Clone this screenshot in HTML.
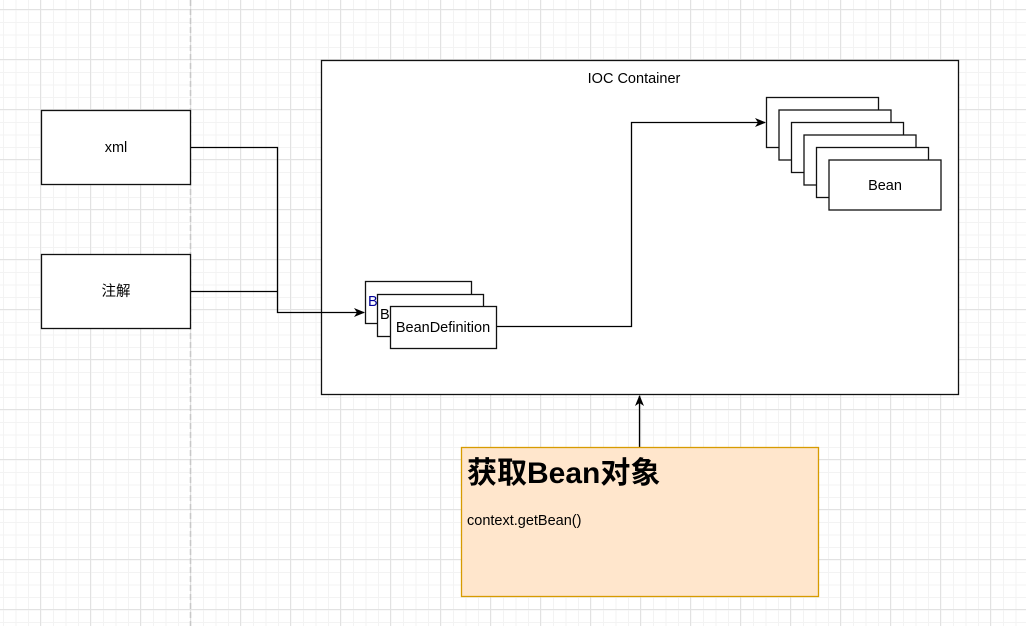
<!DOCTYPE html>
<html><head><meta charset="utf-8"><style>
html,body{margin:0;padding:0;background:#fff}
svg{display:block}
text{font-family:"Liberation Sans","Noto Sans CJK SC",sans-serif}
</style></head><body>
<svg width="1026" height="626" viewBox="0 0 1026 626" xmlns="http://www.w3.org/2000/svg">
<defs>
<pattern id="minor" width="12.5" height="12.5" patternUnits="userSpaceOnUse" x="3" y="-3">
<path d="M0.5 0V12.5M0 0.5H12.5" stroke="#f3f3f3" stroke-width="1" fill="none"/>
</pattern>
<pattern id="major" width="50" height="50" patternUnits="userSpaceOnUse" x="-10" y="9">
<path d="M0.5 0V50M0 0.5H50" stroke="#e2e2e2" stroke-width="1" fill="none"/>
</pattern>
<marker id="ar" markerWidth="12" markerHeight="12" refX="10" refY="6" orient="auto" markerUnits="userSpaceOnUse">
<path d="M0 1.5L11 6L0 10.5L3 6Z" fill="#000"/>
</marker>
</defs>
<rect width="1026" height="626" fill="url(#minor)"/>
<rect width="1026" height="626" fill="url(#major)"/>
<line x1="190.5" y1="0" x2="190.5" y2="626" stroke="#c8c8c8" stroke-width="1.5" stroke-dasharray="6,3"/>

<g stroke="#111" stroke-width="1.3">
<rect x="321.5" y="60.5" width="637" height="334" fill="#fff"/>
<rect x="41.5" y="110.5" width="149" height="74" fill="#fff"/>
<rect x="41.5" y="254.5" width="149" height="74" fill="#fff"/>
</g>
<text x="634" y="83" font-size="14.5" text-anchor="middle">IOC Container</text>
<text x="116" y="152" font-size="14.5" text-anchor="middle">xml</text>
<text x="116" y="296" font-size="14.5" text-anchor="middle">注解</text>

<g fill="none" stroke="#000" stroke-width="1.3">
<polyline points="191,147.5 277.5,147.5 277.5,312.5 364,312.5" marker-end="url(#ar)"/>
<polyline points="191,291.5 277.5,291.5"/>
<polyline points="496,326.5 631.5,326.5 631.5,122.5 765,122.5" marker-end="url(#ar)"/>
<line x1="639.5" y1="447" x2="639.5" y2="396" marker-end="url(#ar)"/>
</g>

<g fill="#fff" stroke="#111" stroke-width="1.3">
<rect x="365.5" y="281.5" width="106" height="42"/>
<rect x="377.5" y="294.5" width="106" height="42"/>
<rect x="390.5" y="306.5" width="106" height="42"/>
</g>
<text x="368" y="306" font-size="14.5" fill="#000099">B</text>
<text x="380" y="319" font-size="14.5" fill="#000">B</text>
<text x="443" y="332" font-size="14.5" text-anchor="middle">BeanDefinition</text>

<g fill="#fff" stroke="#111" stroke-width="1.3">
<rect x="766.5" y="97.5" width="112" height="50"/>
<rect x="779" y="110" width="112" height="50"/>
<rect x="791.5" y="122.5" width="112" height="50"/>
<rect x="804" y="135" width="112" height="50"/>
<rect x="816.5" y="147.5" width="112" height="50"/>
<rect x="829" y="160" width="112" height="50"/>
</g>
<text x="885" y="190" font-size="14.5" text-anchor="middle">Bean</text>

<rect x="461.5" y="447.5" width="357" height="149" fill="#ffe6cc" stroke="#d79b00" stroke-width="1.3"/>
<text x="467" y="483" font-size="30" font-weight="bold">获取Bean对象</text>
<text x="467" y="525" font-size="14.5">context.getBean()</text>
</svg>
</body></html>
